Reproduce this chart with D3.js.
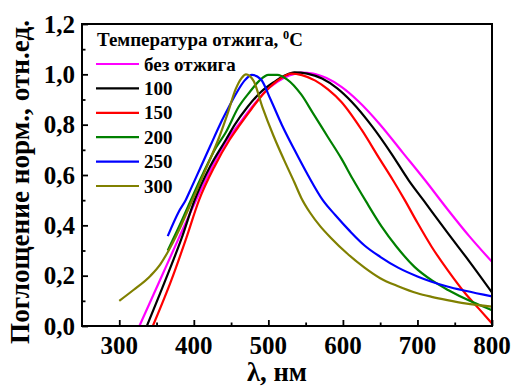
<!DOCTYPE html>
<html>
<head>
<meta charset="utf-8">
<script src="https://cdn.jsdelivr.net/npm/d3@7/dist/d3.min.js"></script>
<style>
  html, body { margin: 0; padding: 0; background: #fff; }
  svg { display: block; }
</style>
</head>
<body>
<svg id="chart" width="514" height="386"></svg>
<script>
// ---- data ----
const seriesNames = ["без отжига", "100", "150", "200", "250", "300"];
const seriesColors = ["#ff00ff", "#000000", "#ff0000", "#008000", "#0000ff", "#808000"];

const wlNoAnneal = [327, 355, 380, 403, 425, 445, 460, 478, 495, 512, 528, 544, 560, 578, 598, 620, 650, 680, 710, 740, 770, 800];
const absNoAnneal = [0.0, 0.185, 0.35, 0.50, 0.635, 0.74, 0.80, 0.87, 0.93, 0.97, 0.995, 1.007, 1.003, 0.985, 0.95, 0.895, 0.80, 0.69, 0.58, 0.465, 0.355, 0.255];

const wl100 = [337, 362, 385, 401, 422, 443, 455, 472, 490, 508, 522, 535, 552, 572, 592, 612, 640, 665, 688, 708, 741, 770, 800];
const abs100 = [0.0, 0.183, 0.36, 0.50, 0.635, 0.74, 0.80, 0.87, 0.93, 0.97, 0.995, 1.008, 1.003, 0.983, 0.945, 0.89, 0.79, 0.685, 0.58, 0.50, 0.368, 0.255, 0.133];

const wl150 = [345, 370, 390, 407, 428, 448, 462, 478, 494, 510, 520, 530, 545, 563, 580, 598, 625, 649, 667, 683, 700, 719, 741, 764, 782, 800];
const abs150 = [0.0, 0.183, 0.35, 0.50, 0.635, 0.74, 0.80, 0.865, 0.925, 0.97, 0.99, 1.003, 0.997, 0.975, 0.94, 0.89, 0.78, 0.665, 0.58, 0.50, 0.41, 0.315, 0.22, 0.13, 0.07, 0.01];

const wl200 = [365, 381, 396, 413, 430, 443, 460, 475, 488, 500, 512, 525, 544, 560, 580, 598, 613, 631, 652, 672, 696, 720, 741, 773, 800];
const abs200 = [0.30, 0.40, 0.50, 0.61, 0.71, 0.77, 0.87, 0.93, 0.975, 0.998, 0.998, 0.98, 0.92, 0.845, 0.75, 0.665, 0.585, 0.495, 0.395, 0.315, 0.235, 0.18, 0.143, 0.096, 0.063];

const wl250 = [365, 380, 389, 396, 409, 422, 435, 447, 458, 468, 478, 490, 503, 518, 535, 553, 573, 590, 610, 629, 650, 674, 700, 719, 740, 764, 800];
const abs250 = [0.357, 0.455, 0.50, 0.545, 0.63, 0.715, 0.80, 0.87, 0.93, 0.975, 0.998, 0.98, 0.90, 0.80, 0.70, 0.60, 0.50, 0.44, 0.375, 0.32, 0.275, 0.232, 0.197, 0.176, 0.157, 0.14, 0.118];

const wl300 = [300, 319, 342, 355, 364, 380, 392, 404, 420, 434, 446, 456, 464, 470, 480, 492, 507, 521, 535, 544, 556, 570, 584, 605, 629, 650, 674, 700, 719, 740, 764, 800];
const abs300 = [0.10, 0.143, 0.20, 0.245, 0.288, 0.38, 0.46, 0.54, 0.65, 0.75, 0.85, 0.94, 0.985, 1.0, 0.975, 0.87, 0.755, 0.66, 0.57, 0.51, 0.45, 0.395, 0.35, 0.29, 0.232, 0.19, 0.158, 0.13, 0.116, 0.103, 0.09, 0.077];

const xMajorTicks = [300, 400, 500, 600, 700, 800];
const xMinorTicks = [350, 450, 550, 650, 750];
const yMajorTicks = [0, 0.2, 0.4, 0.6, 0.8, 1.0, 1.2];
const yMinorTicks = [0.1, 0.3, 0.5, 0.7, 0.9, 1.1];
const yTickLabels = ["0,0", "0,2", "0,4", "0,6", "0,8", "1,0", "1,2"];

const legendTitle = "Температура отжига, ";
const xTitle = "λ, нм";
const yTitle = "Поглощение норм., отн.ед.";

// ---- chart ----
const FONT = "Liberation Serif";
const wavelengths = [wlNoAnneal, wl100, wl150, wl200, wl250, wl300];
const values = [absNoAnneal, abs100, abs150, abs200, abs250, abs300];

const margin = { left: 82, top: 24, right: 22, bottom: 60 };
const W = 514, H = 386;
const pw = W - margin.left - margin.right;
const ph = H - margin.top - margin.bottom;

const svg = d3.select("#chart");
const g = svg.append("g").attr("transform", `translate(${margin.left},${margin.top})`);

const x = d3.scaleLinear().domain([250, 800]).range([0, pw]);
const y = d3.scaleLinear().domain([0, 1.2]).range([ph, 0]);
const X = v => margin.left + x(v);
const Y = v => margin.top + y(v);

function addText(str, size) {
  return svg.append("text")
    .style("font-family", `"${FONT}"`).style("font-weight", "bold").style("font-size", size + "px")
    .attr("fill", "#000").text(str);
}
function fitWidth(sel, target) {
  const w = sel.node().getComputedTextLength();
  const fs = parseFloat(sel.style("font-size"));
  if (w > 0) sel.style("font-size", (fs * target / w).toFixed(2) + "px");
}

g.append("clipPath").attr("id", "clip")
  .append("rect").attr("width", pw).attr("height", ph);

// curves
const line = d3.line().x(d => x(d[0])).y(d => y(d[1])).curve(d3.curveMonotoneX);
const cg = g.append("g").attr("clip-path", "url(#clip)");
wavelengths.forEach((wl, i) => {
  const pts = wl.map((w, k) => [w, values[i][k]]);
  cg.append("path").datum(pts)
    .attr("d", line)
    .attr("fill", "none")
    .attr("stroke", seriesColors[i])
    .attr("stroke-width", 2.2)
    .attr("stroke-linejoin", "round");
});

// axes (tick marks via d3-axis, inward)
g.append("g").attr("transform", `translate(0,${ph})`)
  .call(d3.axisBottom(x).tickValues(xMajorTicks).tickSizeInner(-6).tickSizeOuter(0).tickFormat(""));
g.append("g").attr("transform", `translate(0,${ph})`)
  .call(d3.axisBottom(x).tickValues(xMinorTicks).tickSizeInner(-3.5).tickSizeOuter(0).tickFormat(""));
g.append("g")
  .call(d3.axisLeft(y).tickValues(yMajorTicks).tickSizeInner(-6).tickSizeOuter(0).tickFormat(""));
g.append("g")
  .call(d3.axisLeft(y).tickValues(yMinorTicks).tickSizeInner(-3.5).tickSizeOuter(0).tickFormat(""));
g.selectAll(".domain").remove();
g.selectAll(".tick text").remove();
g.selectAll(".tick line").attr("stroke", "#000").attr("stroke-width", 1.8);

// tick labels
xMajorTicks.forEach(v => {
  addText(String(v), 25).attr("x", X(v)).attr("y", margin.top + ph + 10)
    .attr("dy", "0.71em").attr("text-anchor", "middle");
});
yMajorTicks.forEach((v, i) => {
  addText(yTickLabels[i], 25).attr("x", margin.left - 7).attr("y", Y(v))
    .attr("dy", "0.34em").attr("text-anchor", "end");
});

// frame
g.append("rect").attr("width", pw).attr("height", ph)
  .attr("fill", "none").attr("stroke", "#000").attr("stroke-width", 2);

// axis titles
const xt = addText(xTitle, 22).attr("x", 277).attr("y", 381).attr("text-anchor", "middle");
fitWidth(xt, 60);
const yt = addText(yTitle, 22).attr("transform", `translate(29,182) rotate(-90)`).attr("text-anchor", "middle");
fitWidth(yt, 324);

// legend
const lt = addText(null, 17).attr("x", margin.left + 15).attr("y", margin.top + 21.5);
lt.append("tspan").text(legendTitle);
lt.append("tspan").attr("dy", -7).style("font-size", "0.65em").text("0");
lt.append("tspan").attr("dy", 7).text("C");
fitWidth(lt, 206);

seriesNames.forEach((name, i) => {
  const cy = margin.top + 40 + i * 24.4;
  svg.append("line").attr("x1", margin.left + 14).attr("x2", margin.left + 57).attr("y1", cy).attr("y2", cy)
    .attr("stroke", seriesColors[i]).attr("stroke-width", 2.2);
  addText(name, 19).attr("x", margin.left + 62).attr("y", cy + 6.5);
});
</script>
</body>
</html>
